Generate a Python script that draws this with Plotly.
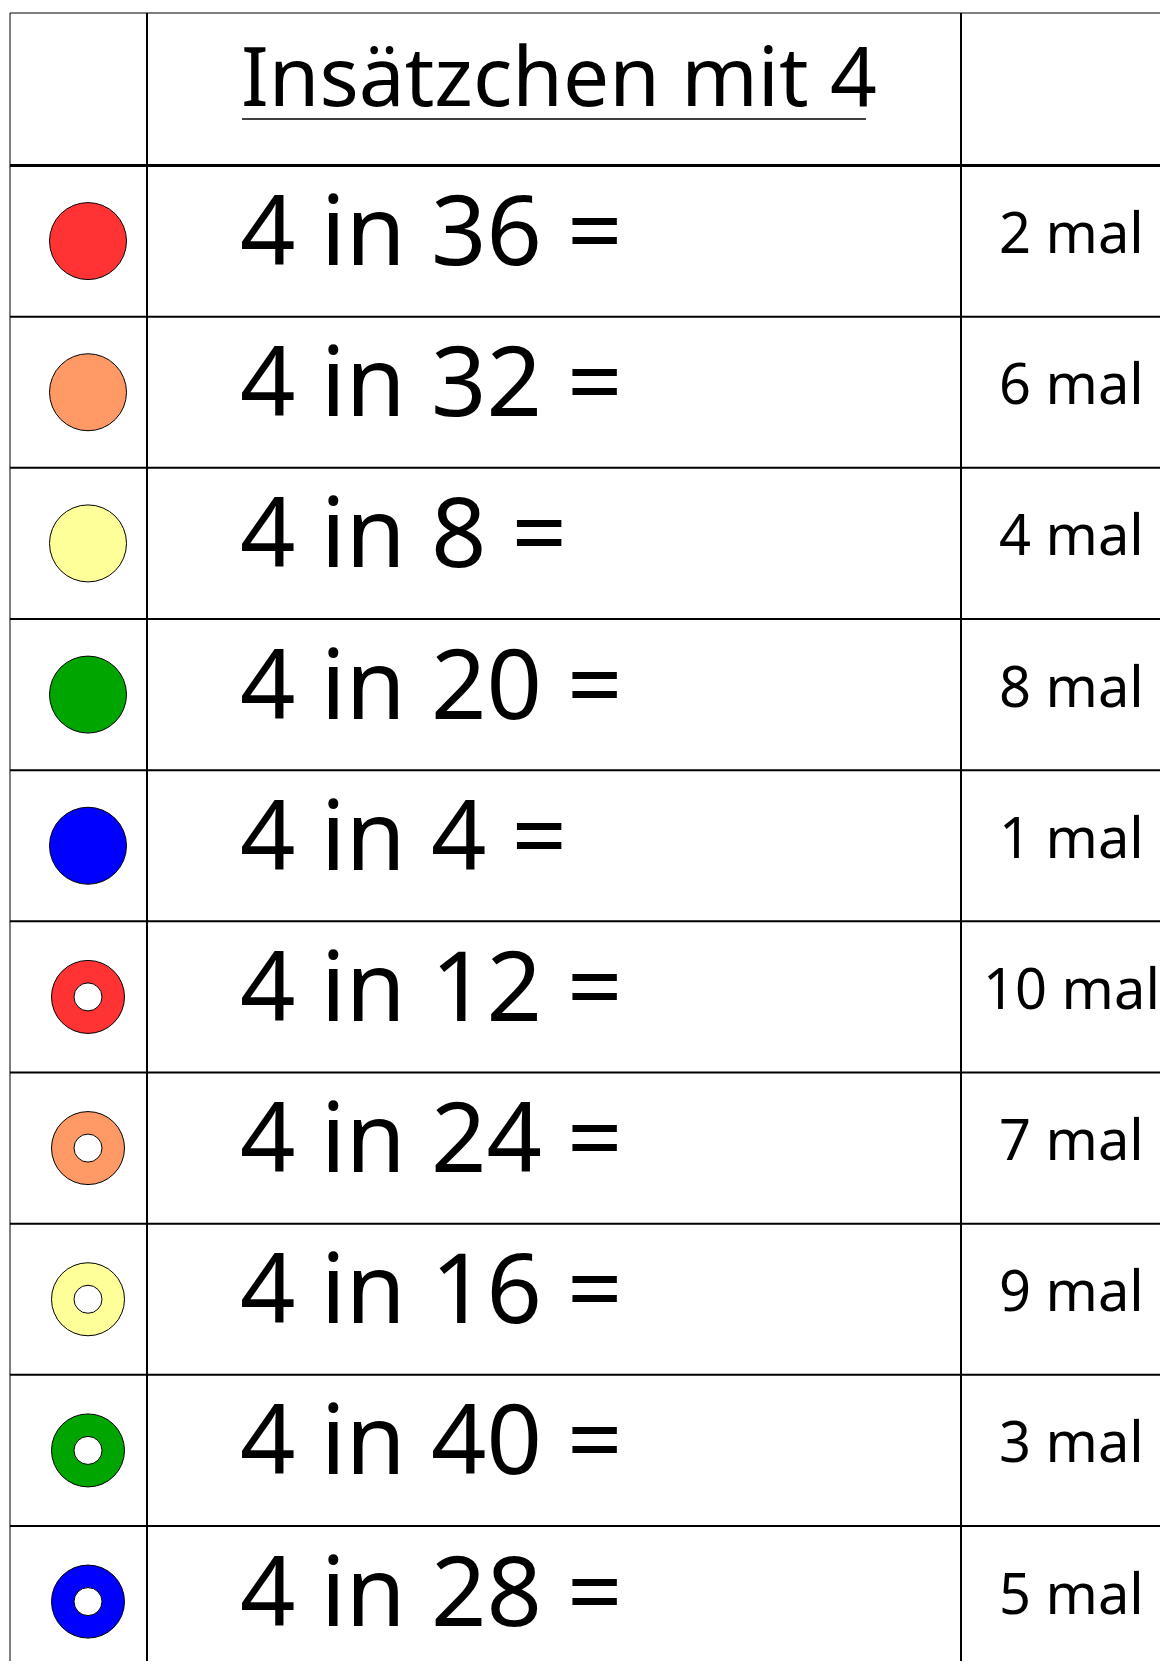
import plotly.graph_objects as go

# worksheet content
title = "Insätzchen mit 4"
divisor = 4
dividends = [36, 32, 8, 20, 4, 12, 24, 16, 40, 28]
answers = [2, 6, 4, 8, 1, 10, 7, 9, 3, 5]
dot_colors = ["#FF3333", "#FF9966", "#FFFF99", "#00A500", "#0000FF",
              "#FF3333", "#FF9966", "#FFFF99", "#00A500", "#0000FF"]
dot_rings = [False] * 5 + [True] * 5

# page geometry (reference pixels)
W, H = 1168, 1669
PAD = 8  # body margin of the html page
left, col1, col2 = 10, 147, 961
top, head_bottom = 13, 165.5
row_h = (1526 - head_bottom) / 9
n_rows = len(dividends)
row_tops = [head_bottom + i * row_h for i in range(n_rows)]
row_mid = [t + row_h / 2 for t in row_tops]

FONT = "Noto Sans, Roboto, sans-serif"

fig = go.Figure()

# coloured dots
filled_y = [y for y, r in zip(row_mid, dot_rings) if not r]
filled_c = [c for c, r in zip(dot_colors, dot_rings) if not r]
ring_y = [y for y, r in zip(row_mid, dot_rings) if r]
ring_c = [c for c, r in zip(dot_colors, dot_rings) if r]

fig.add_trace(go.Scatter(
    x=[88] * len(filled_y), y=filled_y, mode="markers",
    marker=dict(size=77, color=filled_c, line=dict(color="black", width=1)),
    hoverinfo="skip"
))
fig.add_trace(go.Scatter(
    x=[88] * len(ring_y), y=ring_y, mode="markers",
    marker=dict(size=73, color=ring_c, line=dict(color="black", width=1)),
    hoverinfo="skip"
))
fig.add_trace(go.Scatter(
    x=[88] * len(ring_y), y=ring_y, mode="markers",
    marker=dict(size=28, color="white", line=dict(color="black", width=1)),
    hoverinfo="skip"
))

# table lines
shapes = []
line_thin = dict(color="black", width=1)
line_mid = dict(color="black", width=2)
line_thick = dict(color="black", width=3)
shapes.append(dict(type="line", x0=left, x1=W + 20, y0=top, y1=top, line=line_thin))
shapes.append(dict(type="line", x0=left, x1=left, y0=top, y1=H + 20, line=line_thin))
for x in [col1, col2]:
    shapes.append(dict(type="line", x0=x, x1=x, y0=top, y1=H + 20, line=line_mid))
shapes.append(dict(type="line", x0=left, x1=W + 20, y0=head_bottom, y1=head_bottom, line=line_thick))
for t in row_tops[1:]:
    shapes.append(dict(type="line", x0=left, x1=W + 20, y0=t, y1=t, line=line_mid))
# title underline
shapes.append(dict(type="line", x0=242, x1=866, y0=119, y1=119, line=dict(color="black", width=1.5)))

annotations = [dict(
    text=title, x=239, y=74, xanchor="left", yanchor="middle",
    showarrow=False, font=dict(family=FONT, size=82, color="black")
)]
for d, a, y in zip(dividends, answers, row_mid):
    annotations.append(dict(
        text=f"{divisor} in {d} =", x=238, y=y - 14, xanchor="left", yanchor="middle",
        showarrow=False, font=dict(family=FONT, size=97, color="black")
    ))
    annotations.append(dict(
        text=f"{a} mal", x=1071, y=y - 10, xanchor="center", yanchor="middle",
        showarrow=False, font=dict(family=FONT, size=56, color="black")
    ))

fig.update_layout(
    width=W - 2 * PAD, height=H - 2 * PAD,
    margin=dict(l=0, r=0, t=0, b=0),
    paper_bgcolor="white", plot_bgcolor="white",
    showlegend=False,
    shapes=shapes, annotations=annotations,
    xaxis=dict(range=[PAD, W - PAD], visible=False, fixedrange=True),
    yaxis=dict(range=[H - PAD, PAD], visible=False, fixedrange=True),
)

fig.write_html("out.html", config={"displayModeBar": False})
